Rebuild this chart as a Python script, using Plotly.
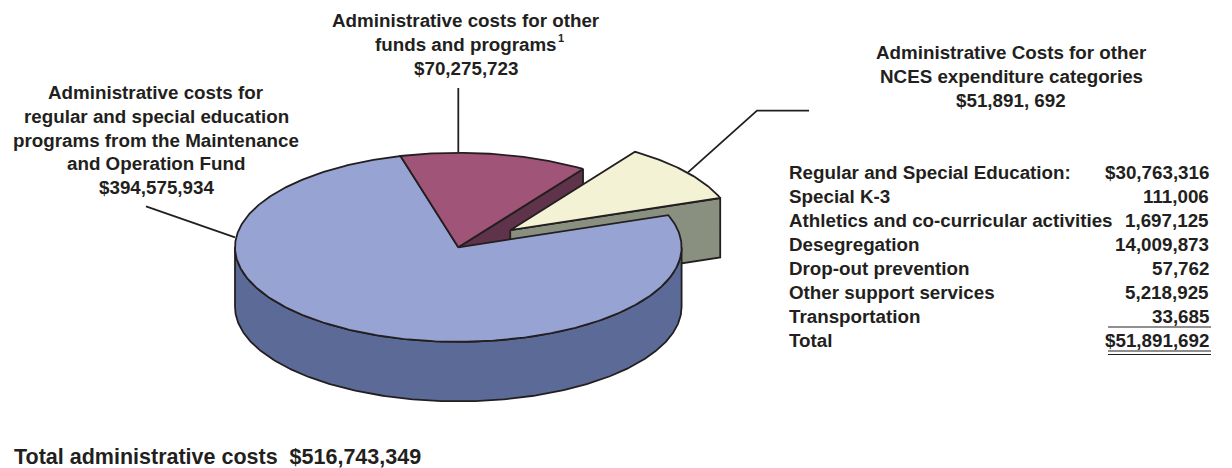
import numpy as np
import plotly.graph_objects as go

# ---- data -------------------------------------------------------------
# Administrative costs by source, in dollars (pie slices, clockwise order)
slice_names = [
    "Administrative costs for other funds and programs",
    "Administrative Costs for other NCES expenditure categories",
    "Administrative costs for regular and special education programs",
]
slice_values = [70275723, 51891692, 394575934]

# Breakdown of the "other NCES expenditure categories" slice
detail_labels = [
    "Regular and Special Education:",
    "Special K-3",
    "Athletics and co-curricular activities",
    "Desegregation",
    "Drop-out prevention",
    "Other support services",
    "Transportation",
    "Total",
]
detail_values = [30763316, 111006, 1697125, 14009873, 57762, 5218925, 33685, 51891692]

# Callout text for each slice
label_other_funds = ["Administrative costs for other", "funds and programs"]
label_nces = ["Administrative Costs for other", "NCES expenditure categories", "$51,891, 692"]
label_mo = ["Administrative costs for", "regular and special education",
            "programs from the Maintenance", "and Operation Fund"]

# ---- styling / layout -------------------------------------------------
W, H = 1232, 468
FONT = "Liberation Sans, Arial, Helvetica, sans-serif"
INK = "#231f20"
FS = 18.8

top_colors = ["#a05478", "#f3f2d5", "#97a3d2"]
side_colors = ["#5f3349", "#8a9080", "#5b6a96"]

CX, CY = 458.3, 247.3      # pie centre (px)
RX, RY = 223.3, 94.5       # ellipse radii of the tilted disc
DEPTH = 59.5               # thickness of the disc
START = 105.0              # angle where the first slice starts (deg)
EXPLODE = [0.0, 0.295, 0.0]

VAL_RIGHT = 1211           # right edge of the table's number column
VAL_LEFT = 1108

fmt = lambda v: f"${v:,}"


def pt(ang_deg, r, ox, oy, dy=0.0):
    a = np.radians(ang_deg)
    return ox + RX * r * np.cos(a), oy - RY * r * np.sin(a) + dy


def arc(a_from, a_to, ox, oy, dy=0.0, n=None):
    n = n or max(8, int(abs(a_to - a_from) * 1.5))
    ang = np.linspace(a_from, a_to, n)
    x, y = pt(ang, 1.0, ox, oy, dy)
    return list(x), list(y)


fig = go.Figure()


def poly(xs, ys, fill):
    fig.add_trace(go.Scatter(
        x=xs + [xs[0]], y=ys + [ys[0]], mode="lines", fill="toself",
        fillcolor=fill, line=dict(color=INK, width=1.8),
        hoverinfo="skip", showlegend=False))


# slice angle ranges, clockwise from START
total = sum(slice_values)
slices = []
acc = START
for i, v in enumerate(slice_values):
    span = v / total * 360.0
    a0, a1 = acc, acc - span
    mid = np.radians((a0 + a1) / 2)
    ox = CX + RX * EXPLODE[i] * np.cos(mid)
    oy = CY - RY * EXPLODE[i] * np.sin(mid)
    slices.append((a0, a1, ox, oy))
    acc = a1

# 1) radial cut faces that face the viewer
for i, (a0, a1, ox, oy) in enumerate(slices):
    for ang, vis in ((a1, np.cos(np.radians(a1)) > 0), (a0, np.cos(np.radians(a0)) < 0)):
        if not vis:
            continue
        rx_, ry_ = pt(ang, 1.0, ox, oy)
        xs = [ox, float(rx_), float(rx_), ox]
        ys = [oy, float(ry_), float(ry_) + DEPTH, oy + DEPTH]
        poly(xs, ys, side_colors[i])

# 2) curved outer walls on the front half of the disc
for i, (a0, a1, ox, oy) in enumerate(slices):
    for k in (-360, 0, 360):
        lo, hi = max(a1, k - 180), min(a0, k)
        if hi - lo <= 0.01:
            continue
        tx, ty = arc(lo, hi, ox, oy)
        bx, by = arc(hi, lo, ox, oy, DEPTH)
        poly(tx + bx, ty + by, side_colors[i])

# 3) top faces
for i in (1, 2, 0):
    a0, a1, ox, oy = slices[i]
    ax, ay = arc(a0, a1, ox, oy)
    poly([ox] + ax, [oy] + ay, top_colors[i])

# ---- leader lines -----------------------------------------------------
leaders = [
    ([146, 235], [206.3, 237.3]),
    ([458.3, 458.3], [88, 152]),
    ([688, 757, 809], [172.3, 110.7, 110.7]),
]
for lx, ly in leaders:
    fig.add_trace(go.Scatter(x=lx, y=ly, mode="lines", line=dict(color=INK, width=1.8),
                             hoverinfo="skip", showlegend=False))

# ---- text -------------------------------------------------------------
ann = []


def text(x, y, s, anchor="center", size=FS):
    ann.append(dict(x=x, y=y, xref="x", yref="y", text=s, showarrow=False,
                    xanchor=anchor, yanchor="middle",
                    font=dict(family=FONT, size=size, color=INK, weight="bold")))


LS = 24.0
for j, s in enumerate(label_other_funds + [fmt(slice_values[0])]):
    text(466, 20.5 + j * LS, s)
text(555.5, 38, "1", anchor="left", size=11)

for j, s in enumerate(label_nces):
    text(1011, 52.5 + j * LS, s)

for j, s in enumerate(label_mo + [fmt(slice_values[2])]):
    text(156, 92.5 + j * 23.8, s)

# breakdown table
for j, (lab, val) in enumerate(zip(detail_labels, detail_values)):
    y = 172 + j * 24.0
    text(787, y, lab, anchor="left")
    s = fmt(val) if j in (0, len(detail_values) - 1) else f"{val:,}"
    text(VAL_RIGHT, y, s, anchor="right")

text(12, 457, "Total administrative costs\u00a0\u00a0" + fmt(total), anchor="left", size=21.5)

rule = dict(color=INK, width=1.2)
shapes = [
    dict(type="line", x0=VAL_LEFT, x1=VAL_RIGHT, y0=327, y1=327, line=rule),
    dict(type="line", x0=VAL_LEFT, x1=VAL_RIGHT, y0=351, y1=351, line=rule),
    dict(type="line", x0=VAL_LEFT, x1=VAL_RIGHT, y0=354.5, y1=354.5, line=rule),
]

fig.update_layout(
    width=W, height=H, margin=dict(l=0, r=0, t=0, b=0),
    paper_bgcolor="white", plot_bgcolor="white",
    xaxis=dict(range=[0, W], visible=False, fixedrange=True),
    yaxis=dict(range=[H, 0], visible=False, fixedrange=True),
    annotations=ann, shapes=shapes, showlegend=False,
)

fig.write_html("out.html")
